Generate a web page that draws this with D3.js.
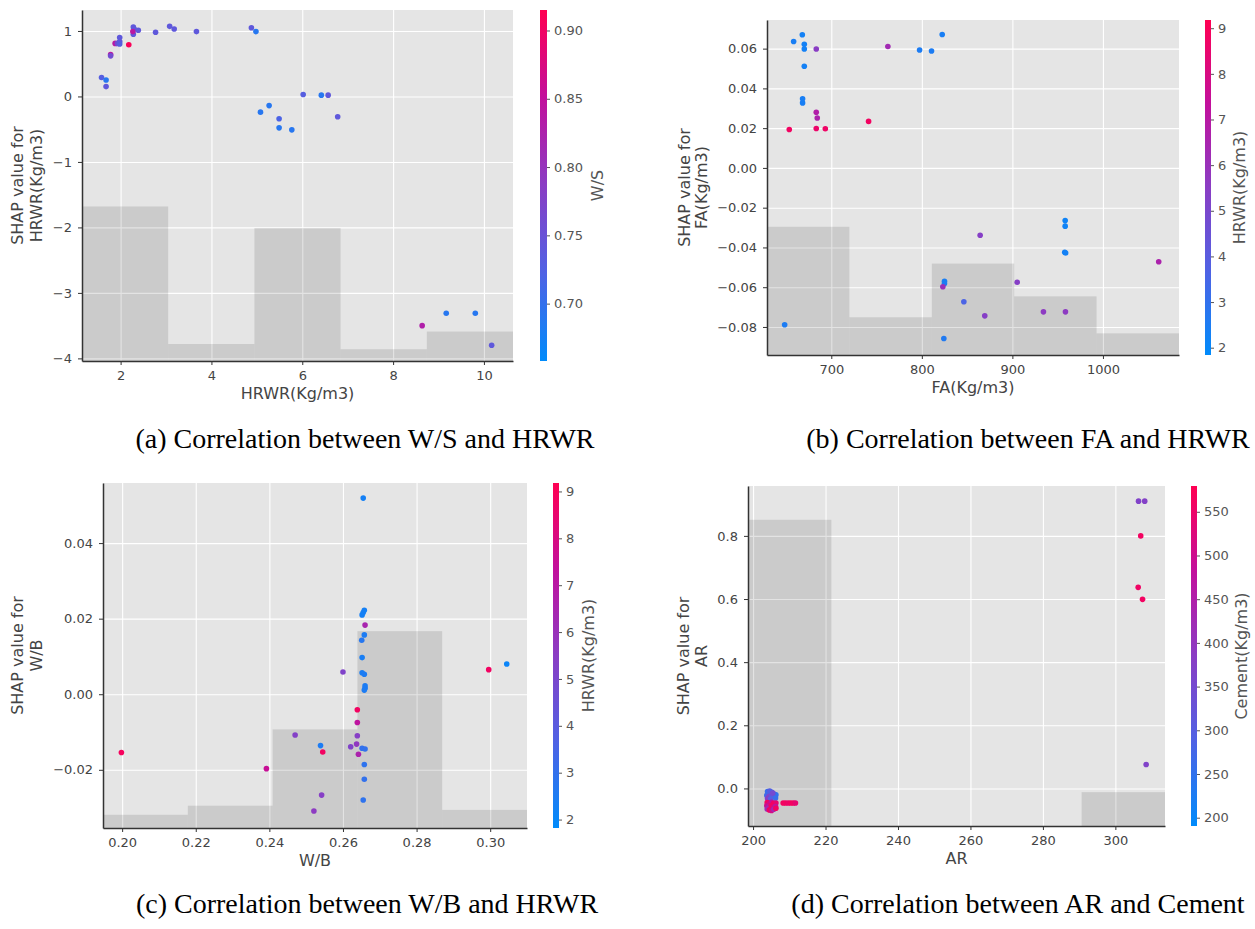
<!DOCTYPE html>
<html>
<head>
<meta charset="utf-8">
<script src="https://cdn.jsdelivr.net/npm/d3@7"></script>
<style>
body { margin: 0; background: #fff; }
svg text { font-family: "DejaVu Sans", sans-serif; }
.caption { font-family: "Liberation Serif", "Times New Roman", serif; font-size: 28px; fill: #000; }
</style>
</head>
<body>
<svg id="chart" width="1255" height="929"></svg>
<script>
// ---- (a) SHAP of HRWR, coloured by W/S
var hrwrA = [1.58,1.68,1.68,1.78,1.78,1.88,1.93,1.98,1.98,1.98,2.18,2.28,2.30,2.28,2.27,2.39,2.77,3.08,3.18,3.67,4.88,4.98,5.08,5.27,5.49,5.49,5.77,6.02,6.42,6.57,6.78,8.64,9.17,9.81,10.17];
var shapA = [0.29,0.25,0.15,0.64,0.62,0.81,0.81,0.90,0.84,0.80,0.79,1.06,1.03,0.95,0.99,1.01,0.98,1.07,1.03,0.99,1.05,0.99,-0.24,-0.14,-0.34,-0.48,-0.51,0.03,0.02,0.02,-0.31,-3.50,-3.31,-3.31,-3.80];
var wsA = [0.73,0.69,0.74,0.84,0.76,0.84,0.76,0.74,0.74,0.73,0.91,0.74,0.74,0.74,0.84,0.74,0.74,0.74,0.74,0.74,0.74,0.69,0.69,0.69,0.72,0.69,0.69,0.73,0.69,0.74,0.74,0.83,0.69,0.69,0.74];
var histA = [-1.68, -3.78, -2.01, -3.86, -3.59];
var xDomA = [1.15, 10.64], yDomA = [-4.04, 1.32], cDomA = [0.658, 0.915];
var xTicksA = [2, 4, 6, 8, 10];
var yTicksA = [-4, -3, -2, -1, 0, 1];
var cTicksA = [0.70, 0.75, 0.80, 0.85, 0.90];

// ---- (b) SHAP of FA, coloured by HRWR
var faB = [668,658.4,670.2,670.2,683.4,670.2,668.3,668.3,683.4,684.5,653.6,683.4,693.4,741.2,762.5,797.5,810.7,822.5,825,825,823.2,648.5,824.3,846.4,869.5,864.4,905.3,934.3,958.6,958.3,958.3,957.8,958.8,1061.6];
var shapB = [0.0670,0.0636,0.0622,0.0598,0.0598,0.0511,0.0348,0.0327,0.0280,0.0251,0.0193,0.0198,0.0197,0.0234,0.0611,0.0593,0.0588,0.0671,-0.0570,-0.0581,-0.0598,-0.0789,-0.0858,-0.0673,-0.0744,-0.0339,-0.0575,-0.0724,-0.0724,-0.0265,-0.0293,-0.0424,-0.0428,-0.0472];
var hrwrB = [2.3,2.4,2.3,2.3,5.5,2.3,2.4,2.4,6.8,6.6,8.8,8.6,8.7,8.8,6.3,2.5,2.5,2.4,2.4,2.5,6.0,2.5,2.6,3.6,5.4,5.4,5.4,5.6,5.6,2.2,2.2,2.3,2.3,6.6];
var histB = [-0.0296, -0.0751, -0.0481, -0.0646, -0.0832];
var xDomB = [629, 1084], yDomB = [-0.0941, 0.0744], cDomB = [1.84, 9.18];
var xTicksB = [700, 800, 900, 1000];
var yTicksB = [-0.08, -0.06, -0.04, -0.02, 0, 0.02, 0.04, 0.06];
var cTicksB = [2, 3, 4, 5, 6, 7, 8, 9];

// ---- (c) SHAP of W/B, coloured by HRWR
var wbC = [0.1998,0.2392,0.2470,0.2521,0.2539,0.2545,0.2542,0.2600,0.2639,0.2639,0.2639,0.2621,0.2637,0.2642,0.2652,0.2660,0.2658,0.2658,0.2655,0.2655,0.2658,0.2655,0.2652,0.2660,0.2658,0.2651,0.2652,0.2652,0.2658,0.2660,0.2660,0.2658,0.2996,0.3045];
var shapC = [-0.0154,-0.0197,-0.0108,-0.0309,-0.0136,-0.0153,-0.0267,0.0059,-0.0041,-0.0075,-0.0110,-0.0139,-0.0132,-0.0159,-0.0143,-0.0145,-0.0186,-0.0225,-0.0280,0.0519,0.0222,0.0216,0.0210,0.0183,0.0157,0.0143,0.0097,0.0057,0.0053,0.0022,0.0016,0.0011,0.0065,0.0080];
var hrwrC = [8.9,7.5,5.3,5.6,2.5,8.8,5.4,5.2,8.8,7.2,5.4,5.2,5.7,6.6,3.0,3.0,2.9,3.0,2.9,2.3,2.3,2.3,2.3,6.5,2.5,2.7,2.4,2.4,2.5,2.5,2.5,2.5,8.8,2.1];
var histC = [-0.0319, -0.0295, -0.0093, 0.0167, -0.0306];
var xDomC = [0.1948, 0.3100], yDomC = [-0.0354, 0.0559], cDomC = [1.82, 9.18];
var xTicksC = [0.20, 0.22, 0.24, 0.26, 0.28, 0.30];
var yTicksC = [-0.02, 0, 0.02, 0.04];
var cTicksC = [2, 3, 4, 5, 6, 7, 8, 9];

// ---- (d) SHAP of AR, coloured by Cement
var arD = [306.4,308.1,307.0,306.3,307.5,308.5,
  204.0,204.6,205.2,205.8,206.3,203.8,204.4,205.0,205.6,206.2,204.0,204.8,205.4,
  203.9,204.5,205.1,205.7,206.3,203.8,204.4,205.0,205.6,206.2,203.9,204.5,205.1,205.7,206.3,
  208.3,209.0,209.7,210.4,211.1,211.7];
var shapD = [0.910,0.910,0.800,0.637,0.599,0.076,
  -0.010,-0.008,-0.012,-0.018,-0.020,-0.022,-0.025,-0.028,-0.024,-0.030,-0.032,-0.034,-0.015,
  -0.045,-0.048,-0.044,-0.047,-0.046,-0.055,-0.058,-0.054,-0.060,-0.057,-0.065,-0.068,-0.070,-0.066,-0.063,
  -0.046,-0.046,-0.046,-0.046,-0.046,-0.046];
var cementD = [370,375,560,555,560,370,
  260,300,280,330,250,270,360,320,290,260,380,300,350,
  560,520,480,560,540,500,450,560,530,470,420,560,510,440,560,
  560,560,550,560,560,540];
var histD = [0.851, null, null, null, -0.0117];
var xDomD = [198.6, 313.7], yDomD = [-0.119, 0.958], cDomD = [190.5, 579.5];
var xTicksD = [200, 220, 240, 260, 280, 300];
var yTicksD = [0, 0.2, 0.4, 0.6, 0.8];
var cTicksD = [200, 250, 300, 350, 400, 450, 500, 550];

// SHAP red/blue colour map
var shapStops = ["#008bfb", "#4f62e4", "#8a3dc4", "#c2109c", "#ff0052"];
var shapColor = d3.piecewise(d3.interpolateRgb, shapStops);

var panels = [
    {key: "a", box: {l: 82, t: 10, r: 513, b: 361}, cbX: 540, cbW: 7,
     xs: hrwrA, ys: shapA, cs: wsA, hist: histA, xDom: xDomA, yDom: yDomA, cDom: cDomA,
     xTicks: xTicksA, yTicks: yTicksA, cTicks: cTicksA, xFmt: "d", yFmt: "d", cFmt: ".2f",
     xLabel: "HRWR(Kg/m3)", yLabel: ["SHAP value for", "HRWR(Kg/m3)"], yLabOff: [59, 40],
     cLabel: "W/S", cLabOff: 56, caption: "(a) Correlation between W/S and HRWR", capX: 365, capY: 448},
    {key: "b", box: {l: 767, t: 20, r: 1179, b: 355}, cbX: 1205, cbW: 6,
     xs: faB, ys: shapB, cs: hrwrB, hist: histB, xDom: xDomB, yDom: yDomB, cDom: cDomB,
     xTicks: xTicksB, yTicks: yTicksB, cTicks: cTicksB, xFmt: "d", yFmt: ".2f", cFmt: "d",
     xLabel: "FA(Kg/m3)", yLabel: ["SHAP value for", "FA(Kg/m3)"], yLabOff: [77, 60],
     cLabel: "HRWR(Kg/m3)", cLabOff: 34, caption: "(b) Correlation between FA and HRWR", capX: 1028, capY: 448},
    {key: "c", box: {l: 103, t: 483, r: 527, b: 828}, cbX: 553, cbW: 6,
     xs: wbC, ys: shapC, cs: hrwrC, hist: histC, xDom: xDomC, yDom: yDomC, cDom: cDomC,
     xTicks: xTicksC, yTicks: yTicksC, cTicks: cTicksC, xFmt: ".2f", yFmt: ".2f", cFmt: "d",
     xLabel: "W/B", yLabel: ["SHAP value for", "W/B"], yLabOff: [80, 61],
     cLabel: "HRWR(Kg/m3)", cLabOff: 35, caption: "(c) Correlation between W/B and HRWR", capX: 367, capY: 913},
    {key: "d", box: {l: 748, t: 486, r: 1165, b: 826}, cbX: 1191, cbW: 6,
     xs: arD, ys: shapD, cs: cementD, hist: histD, xDom: xDomD, yDom: yDomD, cDom: cDomD,
     xTicks: xTicksD, yTicks: yTicksD, cTicks: cTicksD, xFmt: "d", yFmt: ".1f", cFmt: "d",
     xLabel: "AR", yLabel: ["SHAP value for", "AR"], yLabOff: [59, 41],
     cLabel: "Cement(Kg/m3)", cLabOff: 50, caption: "(d) Correlation between AR and Cement", capX: 1018, capY: 913}
];

var svg = d3.select("#chart");
svg.append("rect").attr("width", 1255).attr("height", 929).attr("fill", "#fff");
var defs = svg.append("defs");

// gradient for colour bars (bottom -> top)
var grad = defs.append("linearGradient").attr("id", "shapGrad")
    .attr("x1", 0).attr("y1", 1).attr("x2", 0).attr("y2", 0);
d3.range(0, 1.0001, 0.05).forEach(function(t){
    grad.append("stop").attr("offset", t).attr("stop-color", shapColor(t));
});

function drawPanel(p){
    var b = p.box;
    var w = b.r - b.l, h = b.b - b.t;
    var g = svg.append("g").attr("class", "panel-" + p.key);

    var x = d3.scaleLinear().domain(p.xDom).range([b.l, b.r]);
    var y = d3.scaleLinear().domain(p.yDom).range([b.b, b.t]);
    var c = d3.scaleLinear().domain(p.cDom).range([0, 1]).clamp(true);

    g.append("rect").attr("x", b.l).attr("y", b.t).attr("width", w).attr("height", h).attr("fill", "#e5e5e5");

    // grid
    g.append("g").attr("transform", "translate(0," + b.b + ")")
        .call(d3.axisBottom(x).tickValues(p.xTicks).tickSize(-h).tickFormat(""))
        .call(function(s){ s.select(".domain").remove(); s.selectAll("line").attr("stroke", "#fff").attr("stroke-width", 1.1); });
    g.append("g").attr("transform", "translate(" + b.l + ",0)")
        .call(d3.axisLeft(y).tickValues(p.yTicks).tickSize(-w).tickFormat(""))
        .call(function(s){ s.select(".domain").remove(); s.selectAll("line").attr("stroke", "#fff").attr("stroke-width", 1.1); });

    // histogram of feature values (5 even bins over x range)
    var binW = (p.xDom[1] - p.xDom[0]) / p.hist.length;
    var bins = p.hist.map(function(v, i){
        return {top: v, x0: p.xDom[0] + i * binW, x1: p.xDom[0] + (i + 1) * binW};
    }).filter(function(d){ return d.top !== null; });
    g.selectAll(".bar").data(bins).enter().append("rect")
        .attr("class", "bar")
        .attr("x", function(d){ return x(d.x0); })
        .attr("width", function(d){ return x(d.x1) - x(d.x0); })
        .attr("y", function(d){ return y(d.top); })
        .attr("height", function(d){ return b.b - y(d.top); })
        .attr("fill", "#000").attr("fill-opacity", 0.11);

    // dots
    var pts = p.xs.map(function(v, i){ return {x: v, y: p.ys[i], c: p.cs[i]}; });
    g.selectAll(".dot").data(pts).enter().append("circle")
        .attr("class", "dot")
        .attr("cx", function(d){ return x(d.x); })
        .attr("cy", function(d){ return y(d.y); })
        .attr("r", 2.8)
        .attr("fill", function(d){ return shapColor(c(d.c)); });

    // axes
    var xAxis = g.append("g").attr("transform", "translate(0," + b.b + ")")
        .call(d3.axisBottom(x).tickValues(p.xTicks).tickSize(4).tickSizeOuter(0).tickPadding(6).tickFormat(d3.format(p.xFmt)));
    var yAxis = g.append("g").attr("transform", "translate(" + b.l + ",0)")
        .call(d3.axisLeft(y).tickValues(p.yTicks).tickSize(4).tickSizeOuter(0).tickPadding(6).tickFormat(d3.format(p.yFmt)));
    [xAxis, yAxis].forEach(function(a){
        a.select(".domain").attr("stroke", "#333").attr("stroke-width", 1.5);
        a.selectAll(".tick line").attr("stroke", "#333");
        a.selectAll(".tick text").attr("fill", "#444").attr("font-size", 13).attr("font-family", "DejaVu Sans");
    });

    g.append("text")
        .attr("x", (b.l + b.r) / 2).attr("y", b.b + 38)
        .attr("text-anchor", "middle").attr("font-size", 16).attr("fill", "#444")
        .text(p.xLabel);

    var cy = (b.t + b.b) / 2;
    p.yLabel.forEach(function(line, i){
        var lx = b.l - p.yLabOff[i];
        g.append("text")
            .attr("transform", "translate(" + lx + "," + cy + ") rotate(-90)")
            .attr("text-anchor", "middle").attr("font-size", 16).attr("fill", "#444")
            .text(line);
    });

    // colour bar
    var cbScale = d3.scaleLinear().domain(p.cDom).range([b.b, b.t]);
    g.append("rect").attr("x", p.cbX).attr("y", b.t).attr("width", p.cbW).attr("height", h)
        .attr("fill", "url(#shapGrad)");
    var cAxis = g.append("g").attr("transform", "translate(" + (p.cbX + p.cbW) + ",0)")
        .call(d3.axisRight(cbScale).tickValues(p.cTicks).tickSize(3).tickPadding(4).tickFormat(d3.format(p.cFmt)));
    cAxis.select(".domain").remove();
    cAxis.selectAll(".tick line").attr("stroke", "#555");
    cAxis.selectAll(".tick text").attr("fill", "#555").attr("font-size", 13).attr("font-family", "DejaVu Sans");

    g.append("text")
        .attr("transform", "translate(" + (p.cbX + p.cbW + p.cLabOff) + "," + cy + ") rotate(-90)")
        .attr("text-anchor", "middle").attr("font-size", 16).attr("fill", "#555")
        .text(p.cLabel);

    svg.append("text").attr("class", "caption")
        .attr("x", p.capX).attr("y", p.capY).attr("text-anchor", "middle")
        .text(p.caption);
}

panels.forEach(drawPanel);
</script>
</body>
</html>
